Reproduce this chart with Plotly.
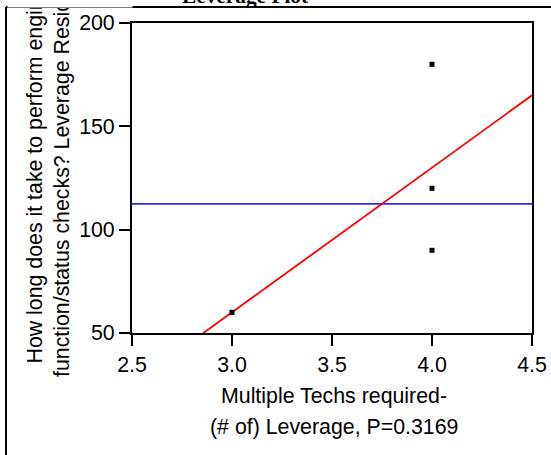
import numpy as np
import plotly.graph_objects as go

# Leverage plot data: number of techs required vs. leverage residuals
techs = [3, 4, 4, 4]
leverage_resid = [60, 180, 120, 90]
x_ticks = [2.5, 3.0, 3.5, 4.0, 4.5]
y_ticks = [50, 100, 150, 200]
x_range = [2.5, 4.5]
y_range = [50, 200]

title_text = "Leverage Plot"
y_title_lines = ["How long does it take to perform engine",
                 "function/status checks? Leverage Residuals"]
x_title_lines = ["Multiple Techs required-",
                 "(# of) Leverage, P=0.3169"]

# Figure geometry (pixels)
W, H = 551, 455
L, R, T, B = 132, 19, 23, 122
PW, PH = W - L - R, H - T - B


def px_x(px):
    return (px - L) / PW


def px_y(py):
    return (H - B - py) / PH


SANS = "Liberation Sans, Arial, sans-serif"
SERIF = "Liberation Serif, Times New Roman, serif"
FS = 21.33

# least squares fit and mean of the residuals
slope, intercept = np.polyfit(techs, leverage_resid, 1)
mean_resid = float(np.mean(leverage_resid))
xs = np.array(x_range)

fig = go.Figure()
fig.add_trace(go.Scatter(x=xs, y=[mean_resid, mean_resid], mode="lines",
                         line=dict(color="#2a2aff", width=1.8),
                         hoverinfo="skip", showlegend=False))
fig.add_trace(go.Scatter(x=xs, y=slope * xs + intercept, mode="lines",
                         line=dict(color="#ff0000", width=1.8),
                         hoverinfo="skip", showlegend=False))
fig.add_trace(go.Scatter(x=techs, y=leverage_resid, mode="markers",
                         marker=dict(symbol="square", size=5, color="black",
                                     line=dict(width=0)),
                         showlegend=False))

axis_common = dict(showgrid=False, zeroline=False, showline=True,
                   linecolor="black", linewidth=2, mirror=True,
                   ticks="outside", ticklen=11, tickwidth=1.6,
                   tickcolor="black", automargin=False,
                   tickfont=dict(family=SANS, size=FS, color="black"))

fig.update_xaxes(range=x_range, tickvals=x_ticks,
                 ticktext=[f"{v:.1f}" for v in x_ticks], **axis_common)
fig.update_yaxes(range=y_range, tickvals=y_ticks,
                 ticktext=[str(v) for v in y_ticks], **axis_common)

annotations = []
# y-axis title, two rotated lines
for text, cx, by in [(y_title_lines[0], 34, 365), (y_title_lines[1], 62, 378)]:
    annotations.append(dict(text=text, x=px_x(cx), y=px_y(by),
                            xref="paper", yref="paper", xanchor="center",
                            yanchor="bottom", textangle=-90, showarrow=False,
                            font=dict(family=SANS, size=FS, color="black"),
                            borderpad=0))
# white band hiding the part of the y title above the frame
annotations.append(dict(text=" ", x=px_x(70), y=px_y(3.5), xref="paper",
                        yref="paper", xanchor="center", yanchor="middle",
                        width=124, height=7, bgcolor="white",
                        showarrow=False, borderpad=0,
                        font=dict(size=2)))
# x-axis title, two lines
for text, cy in [(x_title_lines[0], 396), (x_title_lines[1], 427)]:
    annotations.append(dict(text=text, x=px_x(334), y=px_y(cy),
                            xref="paper", yref="paper", xanchor="center",
                            yanchor="middle", showarrow=False,
                            font=dict(family=SANS, size=FS, color="black"),
                            borderpad=0))
# report title above the frame
annotations.append(dict(text=f"<b>{title_text}</b>", x=px_x(245),
                        y=px_y(-4.5), xref="paper", yref="paper",
                        xanchor="center", yanchor="middle", showarrow=False,
                        font=dict(family=SERIF, size=FS, color="black"),
                        borderpad=0))

# outer report frame (left and top edges)
shapes = [
    dict(type="line", xref="paper", yref="paper", x0=px_x(6), x1=px_x(6),
         y0=px_y(H + 5), y1=px_y(7), line=dict(color="black", width=2)),
    dict(type="line", xref="paper", yref="paper", x0=px_x(6), x1=px_x(W + 5),
         y0=px_y(7), y1=px_y(7), line=dict(color="black", width=2)),
]

fig.update_layout(width=W, height=H, margin=dict(l=L, r=R, t=T, b=B),
                  plot_bgcolor="white", paper_bgcolor="white",
                  annotations=annotations, shapes=shapes,
                  font=dict(family=SANS, size=FS, color="black"))

fig.write_html("out.html")
